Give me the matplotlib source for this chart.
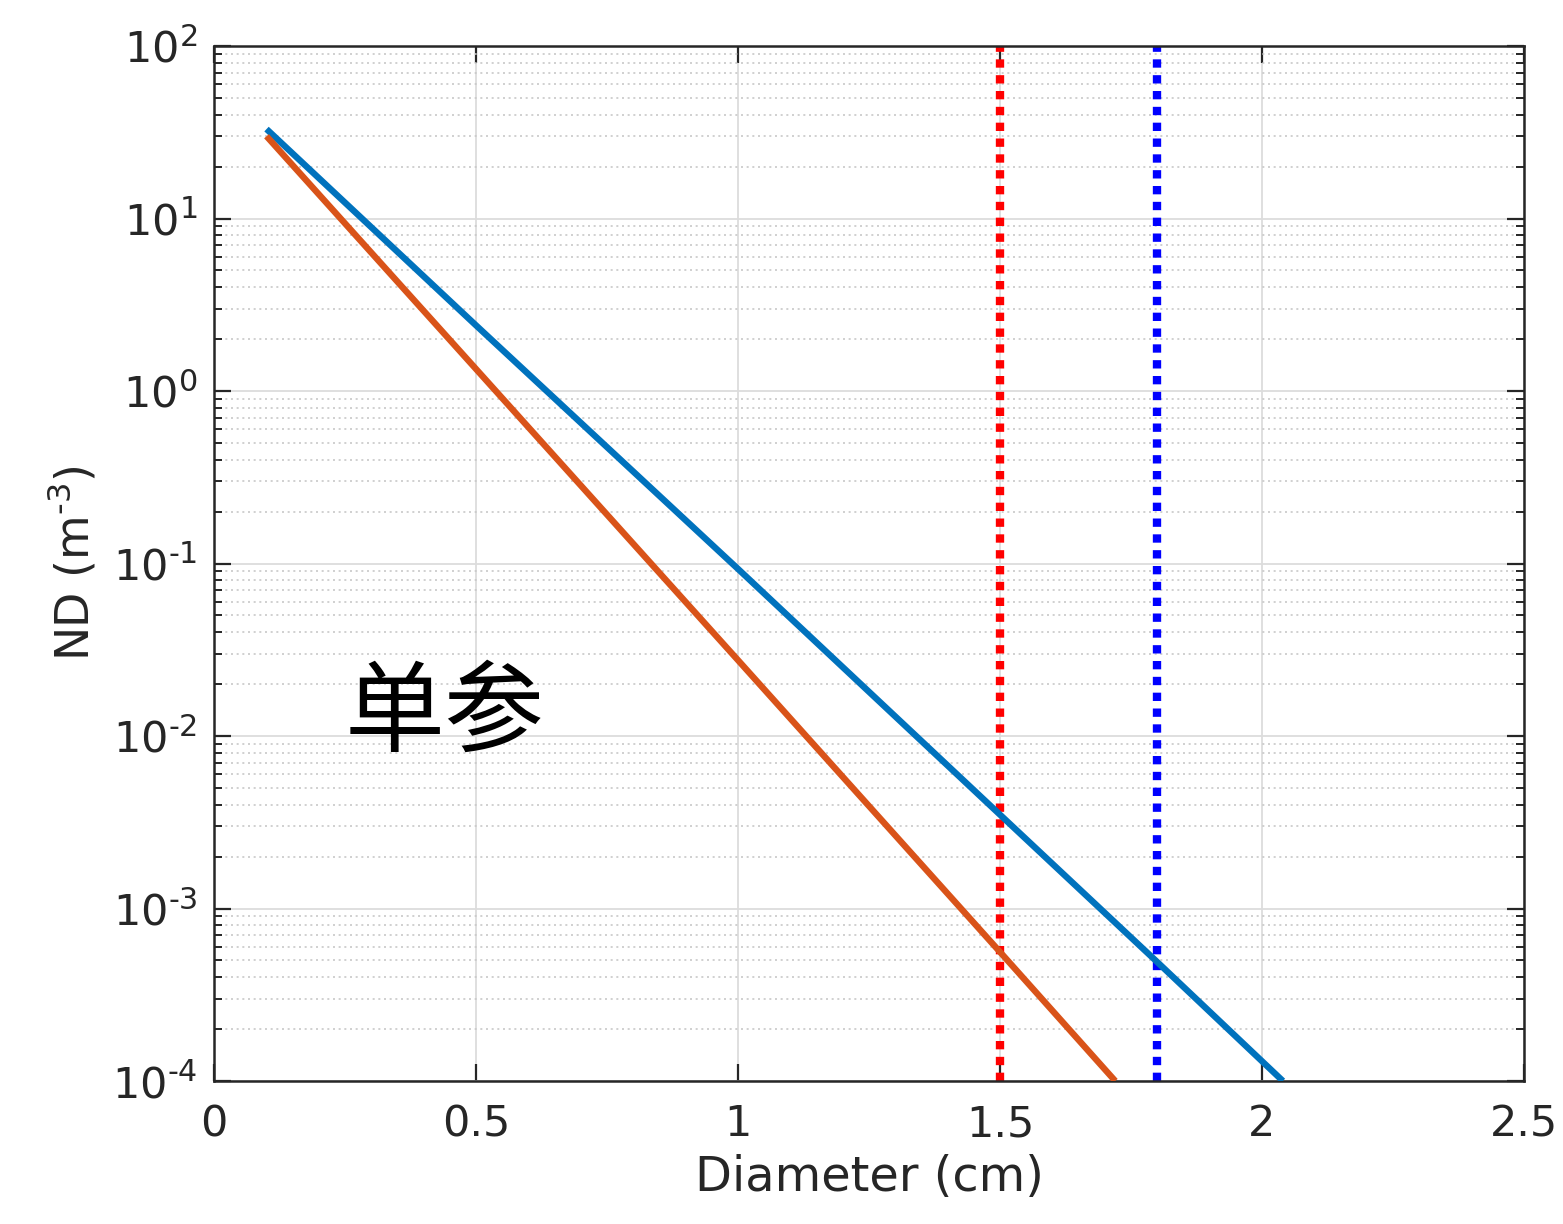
import matplotlib
matplotlib.use("Agg")
import matplotlib.pyplot as plt
from matplotlib.ticker import FixedLocator, LogLocator, NullFormatter

plt.rcParams['font.family'] = ['DejaVu Sans', 'Noto Sans CJK SC']

# Size distributions N(D), straight lines on a log axis
diam_blue = [0.1, 0.5, 1.0, 1.5, 1.8, 2.04]
nd_blue = [33.0, 2.4, 0.093, 3.5e-3, 4.9e-4, 1.0e-4]

diam_orange = [0.1, 0.5, 1.0, 1.5, 1.72]
nd_orange = [30.0, 1.34, 0.0275, 5.6e-4, 1.0e-4]

# Diameter thresholds (cm) and their marker colours
thresholds = [1.5, 1.8]
threshold_colors = ['#ff0000', '#0000ff']

x_ticks = [0, 0.5, 1, 1.5, 2, 2.5]
x_tick_labels = ['0', '0.5', '1', '1.5', '2', '2.5']
y_exponents = [-4, -3, -2, -1, 0, 1, 2]

annotation = '单参'


def power_label(e):
    sign = r'\text{-}' if e < 0 else ''
    return r'$\mathregular{10^{' + sign + str(abs(e)) + '}}$'


fig = plt.figure(figsize=(15.63, 12.24), dpi=100)
ax = fig.add_axes([0.137, 0.1168, 0.838, 0.8456])

ax.set_yscale('log')
ax.set_xlim(0, 2.5)
ax.set_ylim(1e-4, 1e2)

# grids
ax.grid(True, which='major', axis='both', color='#dcdcdc', linewidth=1.3, linestyle='-', zorder=0)
ax.grid(True, which='minor', axis='y', color='#c8c8c8', linewidth=1.2, linestyle=(0, (1.2, 2.2)), zorder=0)
ax.set_axisbelow(True)

for xv, col in zip(thresholds, threshold_colors):
    ax.axvline(xv, color=col, linewidth=6.0, linestyle=(0, (1.0, 0.9)), zorder=2)

ax.plot(diam_blue, nd_blue, color='#0072BD', linewidth=4.6, zorder=3, solid_capstyle='butt')
ax.plot(diam_orange, nd_orange, color='#D95319', linewidth=4.6, zorder=3, solid_capstyle='butt')

ax.text(0.44, 0.0133, annotation, fontsize=72, family=['Noto Sans CJK SC', 'DejaVu Sans'],
        fontweight='light', ha='center', va='center', color='black', zorder=4)

ax.xaxis.set_major_locator(FixedLocator(x_ticks))
ax.set_xticklabels(x_tick_labels)
ax.yaxis.set_major_locator(FixedLocator([10.0 ** e for e in y_exponents]))
ax.set_yticklabels([power_label(e) for e in y_exponents])
ax.yaxis.set_minor_locator(LogLocator(base=10, subs=range(2, 10), numticks=100))
ax.yaxis.set_minor_formatter(NullFormatter())

tick_color = '#262626'
ax.tick_params(axis='both', which='major', direction='in', length=12, width=1.6,
               top=True, right=True, labelsize=31, colors=tick_color)
ax.tick_params(axis='x', which='major', pad=16)
ax.tick_params(axis='y', which='major', pad=12)
ax.tick_params(axis='y', which='minor', direction='in', length=6, width=1.4,
               right=True, left=True, colors=tick_color)
ax.tick_params(axis='x', which='minor', bottom=False, top=False)
for sp in ax.spines.values():
    sp.set_color(tick_color)
    sp.set_linewidth(1.8)

ax.set_xlabel('Diameter (cm)', fontsize=34.5, color=tick_color, labelpad=6)
ax.set_ylabel(r'ND (m$^{\mathregular{\text{-}3}}$)', fontsize=33, color=tick_color, labelpad=10)

fig.savefig('out.png', dpi=100, facecolor='white')
